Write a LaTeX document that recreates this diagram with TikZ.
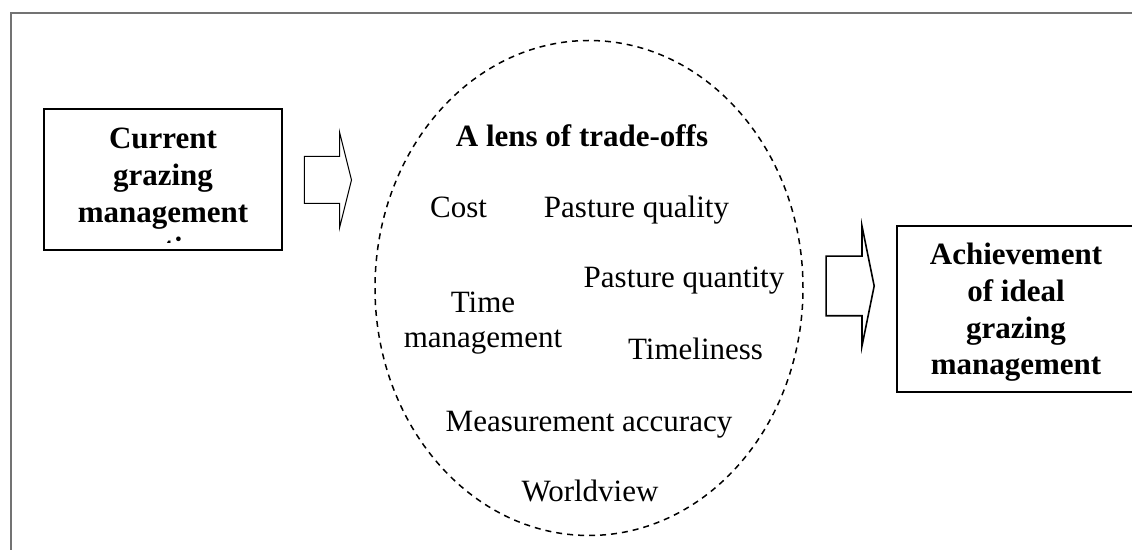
\documentclass[tikz,border=0pt]{standalone}
\usepackage{fontspec}
\setmainfont{Liberation Serif}
\usepackage{tikz}
\usetikzlibrary{shapes.geometric, shapes.arrows}
\tikzstyle{frameline} = [draw=black!55, line width=0.9pt]
\tikzstyle{stage} = [rectangle, 
minimum width=119pt, 
minimum height=70.5pt, 
inner sep=0pt, 
draw=black, 
line width=1pt]
\tikzstyle{stagetext} = [align=center, 
inner sep=0pt, 
font=\fontsize{15.5}{18.35}\selectfont\bfseries]
\tikzstyle{factor} = [align=center, 
inner sep=0pt, 
font=\fontsize{15.5}{17.5}\selectfont]
\tikzstyle{lens} = [ellipse, 
minimum width=214pt, 
minimum height=247.5pt, 
draw=black, 
line width=0.75pt, 
dash pattern=on 3pt off 2.5pt]
\tikzstyle{blockarrow} = [single arrow, 
inner xsep=0pt, 
draw=black]

\begin{document}
\begin{tikzpicture}[x=0.5pt, y=-0.5pt]
\useasboundingbox (0,0) rectangle (1132,550);

% Frame
\draw [frameline] (11,550) -- (11,13) -- (1132,13);

% Nodes
\node (current) [stage] at (163,179.5) {};
\begin{scope}
\clip (current.north west) rectangle ([yshift=4.2pt]current.south east);
\node (currenttext) [stagetext, anchor=base] at (163,259) {Current\\grazing\\management\\practices};
\end{scope}

\node (tradeoffs) [lens] at (589,288) {};
\node (lenstitle) [factor, font=\fontsize{15.5}{17.5}\selectfont\bfseries, anchor=base] at (582,147) {A lens of trade-offs};
\node (cost) [factor, anchor=base] at (458.5,218) {Cost};
\node (quality) [factor, anchor=base] at (636.5,218) {Pasture quality};
\node (quantity) [factor, anchor=base] at (684,288) {Pasture quantity};
\node (timemgmt) [factor, anchor=base] at (483,348) {Time\\management};
\node (timeliness) [factor, anchor=base] at (695.5,360) {Timeliness};
\node (accuracy) [factor, anchor=base] at (589,432) {Measurement accuracy};
\node (worldview) [factor, anchor=base] at (590,502) {Worldview};

\node (ideal) [stage, minimum height=83pt] at (1016,309) {};
\node (idealtext) [stagetext, anchor=base] at (1016,375) {Achievement\\of ideal\\grazing\\management};

% Arrows
\node (arrowin) [blockarrow, line width=0.5pt, inner ysep=11.5pt, minimum height=23.5pt,
  single arrow head extend=12.25pt, single arrow tip angle=152, anchor=tip] at (352,180) {};
\node (arrowout) [blockarrow, line width=0.8pt, inner ysep=14.5pt, minimum height=24pt,
  single arrow head extend=15pt, single arrow tip angle=157, anchor=tip] at (875,286) {};

\end{tikzpicture}
\end{document}
